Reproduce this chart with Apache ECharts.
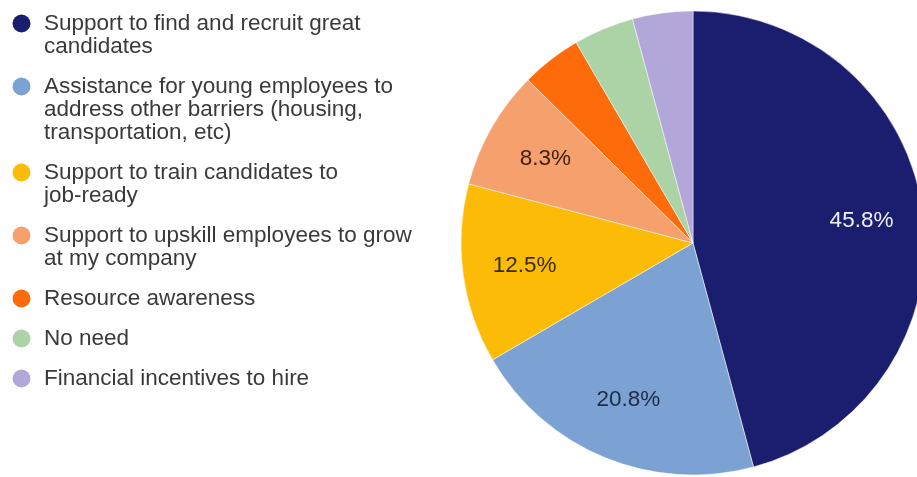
<!DOCTYPE html>
<html>
<head>
<meta charset="utf-8">
<script src="https://cdn.jsdelivr.net/npm/echarts@6/dist/echarts.min.js"></script>
<style>
html,body{margin:0;padding:0;background:#fff;}
#c{width:917px;height:477px;}
</style>
</head>
<body>
<div id="c"></div>
<script>
const categories = [
  'Support to find and recruit great\ncandidates',
  'Assistance for young employees to\naddress other barriers (housing,\ntransportation, etc)',
  'Support to train candidates to\njob-ready',
  'Support to upskill employees to grow\nat my company',
  'Resource awareness',
  'No need',
  'Financial incentives to hire'
];
const values = [45.8, 20.8, 12.5, 8.3, 4.2, 4.2, 4.2];
const colors = ['#1b1e6e', '#7ba2d3', '#fbbb06', '#f5a06d', '#fe6b0a', '#acd3a5', '#b3a6d9'];
const labelColors = ['#eef0f8', '#1e2b45', '#3b2b00', '#3d1f0f', '#333', '#333', '#333'];

const FONT = 'Liberation Sans, Arial, sans-serif';
const LH = 23;
const FS = 22.5;

const rich = {
  g: { width: 13.5, lineHeight: LH },
  s: { width: 31.5, lineHeight: LH },
  t: { fontSize: FS, fontFamily: FONT, color: '#3a3a3a', lineHeight: LH }
};
colors.forEach((c, i) => {
  rich['c' + i] = { width: 18, height: 18, borderRadius: 9, backgroundColor: c, lineHeight: LH };
});

const pieData = categories.map((n, i) => ({ name: n, value: values[i], itemStyle: { color: colors[i] } }));
const labelData = categories.map((n, i) => ({
  name: n, value: values[i],
  label: { color: labelColors[i] }
}));

const chart = echarts.init(document.getElementById('c'), null, { renderer: 'canvas' });
chart.setOption({
  animation: false,
  backgroundColor: '#ffffff',
  legend: {
    orient: 'vertical',
    left: 1.5,
    top: 7,
    itemGap: 17,
    itemWidth: 0,
    itemHeight: 0,
    itemStyle: { opacity: 0 },
    selectedMode: false,
    data: categories,
    formatter: function (name) {
      const idx = categories.indexOf(name);
      return name.split('\n').map((l, i) =>
        (i === 0 ? '{c' + idx + '|}{g|}' : '{s|}') + '{t|' + l + '}'
      ).join('\n');
    },
    textStyle: { rich: rich, lineHeight: LH, padding: 0 }
  },
  series: [
    {
      type: 'pie',
      center: [693, 243],
      radius: 232,
      startAngle: 90,
      clockwise: true,
      label: { show: false },
      labelLine: { show: false },
      itemStyle: { borderColor: '#ffffff', borderWidth: 0.5 },
      emphasis: { disabled: true },
      data: pieData
    },
    {
      type: 'pie',
      center: [693, 243],
      radius: [102, 232],
      startAngle: 90,
      clockwise: true,
      silent: true,
      itemStyle: { color: 'rgba(0,0,0,0)' },
      label: {
        show: true,
        position: 'inside',
        fontSize: FS,
        fontFamily: FONT,
        formatter: function (p) { return p.value >= 8 ? p.value.toFixed(1) + '%' : ''; }
      },
      labelLine: { show: false },
      emphasis: { disabled: true },
      data: labelData
    }
  ]
});
</script>
</body>
</html>
